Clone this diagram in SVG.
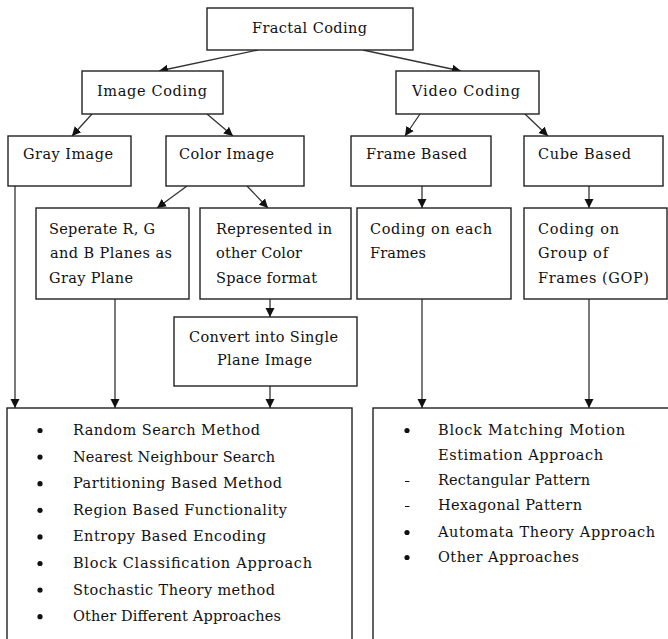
<svg xmlns="http://www.w3.org/2000/svg" width="668" height="639" viewBox="0 0 668 639">
<style>
.box{fill:#fff;stroke:#222;stroke-width:1.4}
.t{font-family:"DejaVu Serif","Liberation Serif",serif;font-size:14.5px;fill:#111}
.c{fill:none;stroke:#333;stroke-width:1.3}
</style>
<defs>
<marker id="ah" markerUnits="userSpaceOnUse" markerWidth="10" markerHeight="10" refX="9" refY="5" orient="auto">
<path d="M0,0.5 L9,5 L0,9.5 z" fill="#111"/>
</marker>
</defs>
<rect width="668" height="639" fill="#fff"/>
<g id="connectors">
<path class="c" d="M258,50 L159,71" marker-end="url(#ah)"/>
<path class="c" d="M363,50 L461,71" marker-end="url(#ah)"/>
<path class="c" d="M92,114 L72,136" marker-end="url(#ah)"/>
<path class="c" d="M207,114 L233,136" marker-end="url(#ah)"/>
<path class="c" d="M420,114 L405,136" marker-end="url(#ah)"/>
<path class="c" d="M525,114 L548,136" marker-end="url(#ah)"/>
<path class="c" d="M187,186 L157,208" marker-end="url(#ah)"/>
<path class="c" d="M247,186 L268,208" marker-end="url(#ah)"/>
<path class="c" d="M422,186 L422,208" marker-end="url(#ah)"/>
<path class="c" d="M589,186 L589,208" marker-end="url(#ah)"/>
<path class="c" d="M270,299 L270,317" marker-end="url(#ah)"/>
<path class="c" d="M15,186 L15,408" marker-end="url(#ah)"/>
<path class="c" d="M115,299 L115,408" marker-end="url(#ah)"/>
<path class="c" d="M270,386 L270,408" marker-end="url(#ah)"/>
<path class="c" d="M422,299 L422,408" marker-end="url(#ah)"/>
<path class="c" d="M589,299 L589,408" marker-end="url(#ah)"/>
</g>
<g id="fractal-coding">
<rect class="box" x="207" y="8" width="206" height="42"/>
<text class="t" x="252" y="33" textLength="115" lengthAdjust="spacing">Fractal Coding</text>
</g>
<g id="image-coding">
<rect class="box" x="82" y="71" width="141" height="43"/>
<text class="t" x="97" y="96" textLength="110" lengthAdjust="spacing">Image Coding</text>
</g>
<g id="video-coding">
<rect class="box" x="396" y="71" width="143" height="43"/>
<text class="t" x="412" y="96" textLength="108" lengthAdjust="spacing">Video Coding</text>
</g>
<g id="gray-image">
<rect class="box" x="8" y="136" width="123" height="50"/>
<text class="t" x="23" y="159" textLength="90" lengthAdjust="spacing">Gray Image</text>
</g>
<g id="color-image">
<rect class="box" x="166" y="136" width="138" height="50"/>
<text class="t" x="179" y="159" textLength="95" lengthAdjust="spacing">Color Image</text>
</g>
<g id="frame-based">
<rect class="box" x="351" y="136" width="140" height="50"/>
<text class="t" x="366" y="159" textLength="101" lengthAdjust="spacing">Frame Based</text>
</g>
<g id="cube-based">
<rect class="box" x="524" y="136" width="139" height="50"/>
<text class="t" x="538" y="159" textLength="93" lengthAdjust="spacing">Cube Based</text>
</g>
<g id="separate-rgb">
<rect class="box" x="36" y="208" width="153" height="91"/>
<text class="t" x="49" y="234" textLength="106" lengthAdjust="spacing">Seperate R, G</text>
<text class="t" x="50" y="258" textLength="122" lengthAdjust="spacing">and B Planes as</text>
<text class="t" x="49" y="283" textLength="84" lengthAdjust="spacing">Gray Plane</text>
</g>
<g id="represented">
<rect class="box" x="200" y="208" width="151" height="91"/>
<text class="t" x="216" y="234" textLength="116" lengthAdjust="spacing">Represented in</text>
<text class="t" x="216" y="258" textLength="86" lengthAdjust="spacing">other Color</text>
<text class="t" x="216" y="283" textLength="101" lengthAdjust="spacing">Space format</text>
</g>
<g id="coding-each-frame">
<rect class="box" x="357" y="208" width="154" height="91"/>
<text class="t" x="370" y="234" textLength="122" lengthAdjust="spacing">Coding on each</text>
<text class="t" x="370" y="258" textLength="56" lengthAdjust="spacing">Frames</text>
</g>
<g id="coding-gop">
<rect class="box" x="524" y="208" width="143" height="91"/>
<text class="t" x="538" y="234" textLength="81" lengthAdjust="spacing">Coding on</text>
<text class="t" x="538" y="258" textLength="70" lengthAdjust="spacing">Group of</text>
<text class="t" x="538" y="283" textLength="111" lengthAdjust="spacing">Frames (GOP)</text>
</g>
<g id="convert-single">
<rect class="box" x="174" y="317" width="183" height="69"/>
<text class="t" x="189" y="342" textLength="149" lengthAdjust="spacing">Convert into Single</text>
<text class="t" x="217" y="365" textLength="95" lengthAdjust="spacing">Plane Image</text>
</g>
<g id="image-methods">
<rect class="box" x="7" y="408" width="345" height="240"/>
<g fill="#111">
<circle cx="40" cy="430.5" r="2.6"/>
<circle cx="40" cy="457.1" r="2.6"/>
<circle cx="40" cy="483.7" r="2.6"/>
<circle cx="40" cy="510.3" r="2.6"/>
<circle cx="40" cy="536.9" r="2.6"/>
<circle cx="40" cy="563.5" r="2.6"/>
<circle cx="40" cy="590.1" r="2.6"/>
<circle cx="40" cy="616.7" r="2.6"/>
</g>
<text class="t" x="73" y="435" textLength="187" lengthAdjust="spacing">Random Search Method</text>
<text class="t" x="73" y="461.6" textLength="202" lengthAdjust="spacing">Nearest Neighbour Search</text>
<text class="t" x="73" y="488.2" textLength="209" lengthAdjust="spacing">Partitioning Based Method</text>
<text class="t" x="73" y="514.8" textLength="214" lengthAdjust="spacing">Region Based Functionality</text>
<text class="t" x="73" y="541.4" textLength="193" lengthAdjust="spacing">Entropy Based Encoding</text>
<text class="t" x="73" y="568" textLength="239" lengthAdjust="spacing">Block Classification Approach</text>
<text class="t" x="73" y="594.6" textLength="202" lengthAdjust="spacing">Stochastic Theory method</text>
<text class="t" x="73" y="621.2" textLength="208" lengthAdjust="spacing">Other Different Approaches</text>
</g>
<g id="video-methods">
<rect class="box" x="373" y="408" width="300" height="240"/>
<g fill="#111">
<circle cx="407" cy="430.5" r="2.6"/>
<circle cx="407" cy="532.5" r="2.6"/>
<circle cx="407" cy="557.5" r="2.6"/>
</g>
<path d="M405,481.5 H409.5 M405,506.5 H409.5" stroke="#111" stroke-width="1.2"/>
<text class="t" x="438" y="435" textLength="187" lengthAdjust="spacing">Block Matching Motion</text>
<text class="t" x="438" y="460" textLength="165" lengthAdjust="spacing">Estimation Approach</text>
<text class="t" x="438" y="485" textLength="152" lengthAdjust="spacing">Rectangular Pattern</text>
<text class="t" x="438" y="510" textLength="144" lengthAdjust="spacing">Hexagonal Pattern</text>
<text class="t" x="438" y="537" textLength="217" lengthAdjust="spacing">Automata Theory Approach</text>
<text class="t" x="438" y="562" textLength="141" lengthAdjust="spacing">Other Approaches</text>
</g>
</svg>
